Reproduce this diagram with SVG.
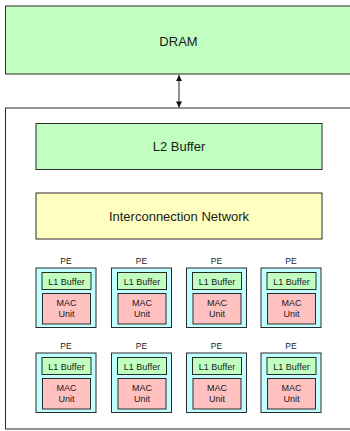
<svg xmlns="http://www.w3.org/2000/svg" width="350" height="431" viewBox="0 0 350 431">
<style>
.box{stroke:#2a2a2a;stroke-width:1}
.t{font-family:"Liberation Sans",Arial,sans-serif;fill:#1a1a1a;text-anchor:middle}
.big{font-size:13px}
.sm{font-size:9px}
.pe{font-size:8.5px}
.green{fill:#c0ffc0}
.yellow{fill:#ffffc0}
.cyan{fill:#c0ffff}
.pink{fill:#ffc0c0}
</style>
<defs>
<marker id="ah" viewBox="0 0 10 10" refX="10" refY="5" markerWidth="7" markerHeight="6" orient="auto-start-reverse" markerUnits="userSpaceOnUse">
<path d="M0,0 L10,5 L0,10 z" fill="#111"/>
</marker>
<g id="peproto">
<rect class="box cyan" x="0" y="0" width="60" height="59.5"/>
<rect class="box green" x="6" y="4.5" width="49" height="17"/>
<rect class="box pink" x="6.5" y="25.5" width="48" height="30.5"/>
<text class="t pe" x="30" y="-4">PE</text>
<text class="t sm" x="30.5" y="16.5">L1 Buffer</text>
<text class="t sm" x="30.5" y="38">MAC</text>
<text class="t sm" x="30.5" y="49">Unit</text>
</g>
</defs>
<rect width="350" height="431" fill="#ffffff"/>
<g id="dram">
<rect class="box green" x="5.5" y="6" width="350" height="68"/>
<text class="t big" x="178.5" y="46">DRAM</text>
</g>
<g id="chip">
<rect class="box" fill="#ffffff" x="5.5" y="108" width="350" height="321"/>
</g>
<g id="l2">
<rect class="box green" x="36" y="123.5" width="286" height="46"/>
<text class="t big" x="179" y="151">L2 Buffer</text>
</g>
<g id="noc">
<rect class="box yellow" x="36" y="193" width="286" height="46"/>
<text class="t big" x="179" y="221">Interconnection Network</text>
</g>
<g id="pe00"><use href="#peproto" x="36" y="268"/></g>
<g id="pe01"><use href="#peproto" x="111.5" y="268"/></g>
<g id="pe02"><use href="#peproto" x="186.5" y="268"/></g>
<g id="pe03"><use href="#peproto" x="261" y="268"/></g>
<g id="pe10"><use href="#peproto" x="36" y="353"/></g>
<g id="pe11"><use href="#peproto" x="111.5" y="353"/></g>
<g id="pe12"><use href="#peproto" x="186.5" y="353"/></g>
<g id="pe13"><use href="#peproto" x="261" y="353"/></g>
<g id="connectors">
<line x1="179" y1="75" x2="179" y2="107.5" stroke="#222" stroke-width="1" marker-start="url(#ah)" marker-end="url(#ah)"/>
</g>
</svg>
